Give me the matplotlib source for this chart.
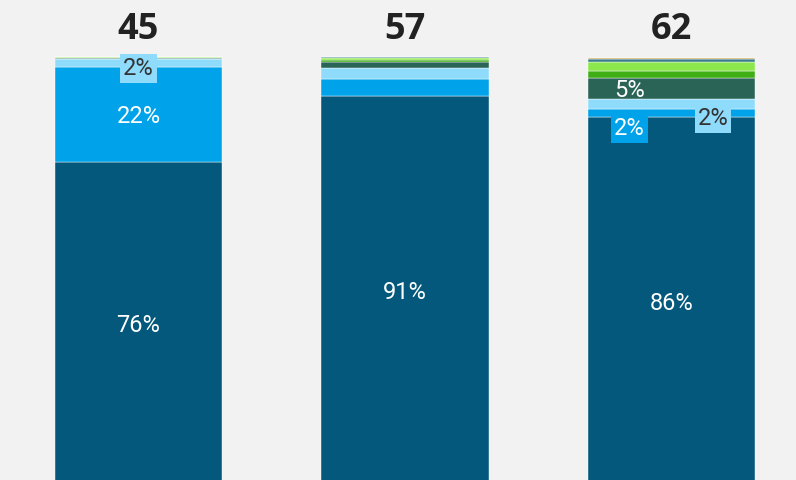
import numpy as np
import matplotlib.pyplot as plt

# stacked shares (%) per bar, bottom to top
totals = [45, 57, 62]
dark = [75.6, 91.0, 86.0]
blue = [22.2, 4.0, 1.8]
light_blue = [1.9, 2.6, 2.5]
dark_green = [0.05, 1.2, 4.9]
green = [0.05, 0.6, 1.7]
light_green = [0.2, 0.4, 1.9]
slate = [0.0, 0.2, 0.9]
gold = [0.0, 0.0, 0.2]

series = [dark, blue, light_blue, dark_green, green, light_green, slate, gold]
colors = ['#04587B', '#00A3E9', '#8FDBFC', '#2A6456', '#3EAE14', '#8BE74B', '#3B7C8B', '#C9A23A']

# labels: (bar index, series index, text, x offset, y offset, text colour, box colour)
labels = [
    (0, 0, '76%', 0, 0, 'white', None),
    (0, 1, '22%', 0, 0, 'white', None),
    (0, 2, '2%', 0, -0.8, '#333333', '#8FDBFC'),
    (1, 0, '91%', 0, 0, 'white', None),
    (2, 0, '86%', 0, 0, 'white', None),
    (2, 3, '5%', -0.156, 0.1, 'white', None),
    (2, 2, '2%', 0.156, -2.8, '#333333', '#8FDBFC'),
    (2, 1, '2%', -0.158, -3.0, 'white', '#00A3E9'),
]

bg = '#F2F2F2'
fig = plt.figure(figsize=(7.96, 4.8), dpi=100, facecolor=bg)
ax = fig.add_axes([0, 0, 1, 1])
ax.set_facecolor(bg)

x = np.arange(len(totals))
width = 0.627
bottom = np.zeros(len(totals))
bottoms = []
for vals, c in zip(series, colors):
    vals = np.array(vals)
    ax.bar(x, vals, width, bottom=bottom, color=c, edgecolor='white', linewidth=0.3)
    bottoms.append(bottom.copy())
    bottom += vals

pct_font = ['Liberation Sans Narrow', 'Roboto', 'DejaVu Sans']
cap = 2.15  # half cap height in data units
for bi, si, txt, dx, dy, tc, box in labels:
    yc = bottoms[si][bi] + series[si][bi] / 2 + dy
    kw = {}
    if box:
        kw['bbox'] = dict(boxstyle='square,pad=0.12', fc=box, ec='none')
    ax.text(x[bi] + dx, yc - cap, txt, ha='center', va='baseline', color=tc,
            fontsize=17, family=pct_font, **kw)

for xi, t in zip(x, totals):
    ax.text(xi, 104.2, str(t), ha='center', va='baseline', fontsize=26,
            fontweight='bold', color='#222222', family=['Open Sans', 'DejaVu Sans'])

ax.set_xlim(-0.5197, 2.467)
ax.set_ylim(1.05, 113.41)
ax.axis('off')

fig.savefig('out.png', dpi=100, facecolor=bg)
